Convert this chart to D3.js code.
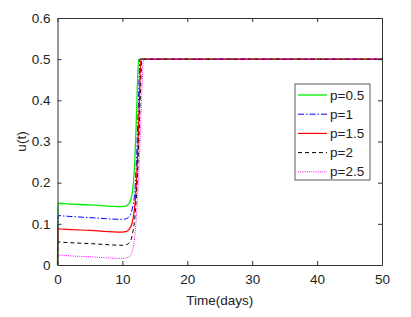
<!DOCTYPE html>
<html>
<head>
<meta charset="utf-8">
<script src="https://cdn.jsdelivr.net/npm/d3@7"></script>
<style>
  body { margin: 0; background: #fff; }
  text { font-family: "Liberation Sans", Arial, sans-serif; fill: #222; }
</style>
</head>
<body>
<div class="chart"></div>
<script>
var svgWidth = 411;
var svgHeight = 317;

var margin = { top: 18, right: 29, bottom: 52, left: 57.5 };
var width = svgWidth - margin.left - margin.right;
var height = svgHeight - margin.top - margin.bottom;

// data
var labels = ["p=0.5", "p=1", "p=1.5", "p=2", "p=2.5"];
var colors = ["#00ee00", "#0000ff", "#ff0000", "#000000", "#ff00ff"];
var dashes = [null, "6,2,1.5,2", null, "4,3", "1,1.2"];
var widths = [1.3, 1, 1.2, 1, 1];

var tGreen = [0, 0.05, 0.15, 1, 5, 10, 10.5, 11, 11.4, 11.7, 11.9, 12.1, 12.3, 12.5, 20, 50];
var uGreen = [0, 0.12, 0.15, 0.149, 0.146, 0.142, 0.143, 0.149, 0.165, 0.2, 0.25, 0.33, 0.43, 0.5, 0.5, 0.5];
var tBlue = [0, 0.05, 0.15, 1, 5, 10, 10.5, 11, 11.5, 11.9, 12.1, 12.3, 12.5, 12.7, 20, 50];
var uBlue = [0, 0.1, 0.12, 0.119, 0.115, 0.111, 0.112, 0.117, 0.135, 0.175, 0.23, 0.31, 0.41, 0.5, 0.5, 0.5];
var tRed = [0, 0.05, 0.15, 1, 5, 10, 10.5, 11, 11.5, 12, 12.2, 12.4, 12.6, 12.85, 20, 50];
var uRed = [0, 0.07, 0.088, 0.087, 0.084, 0.080, 0.081, 0.086, 0.102, 0.16, 0.21, 0.29, 0.39, 0.5, 0.5, 0.5];
var tBlack = [0, 0.05, 0.15, 1, 5, 10, 10.5, 11, 11.5, 12, 12.3, 12.5, 12.8, 13, 20, 50];
var uBlack = [0, 0.045, 0.056, 0.055, 0.052, 0.048, 0.049, 0.053, 0.072, 0.13, 0.21, 0.29, 0.43, 0.5, 0.5, 0.5];
var tMagenta = [0, 0.05, 0.15, 1, 5, 10, 10.5, 11, 11.5, 12, 12.4, 12.7, 13, 13.25, 20, 50];
var uMagenta = [0, 0.02, 0.024, 0.023, 0.02, 0.016, 0.017, 0.02, 0.033, 0.085, 0.18, 0.29, 0.42, 0.5, 0.5, 0.5];

var times = [tGreen, tBlue, tRed, tBlack, tMagenta];
var values = [uGreen, uBlue, uRed, uBlack, uMagenta];

var xTicks = [0, 10, 20, 30, 40, 50];
var yTicks = [0, 0.1, 0.2, 0.3, 0.4, 0.5, 0.6];

var svg = d3.select(".chart")
  .append("svg")
  .attr("width", svgWidth)
  .attr("height", svgHeight);

var chartGroup = svg.append("g")
  .attr("transform", `translate(${margin.left}, ${margin.top})`);

var x = d3.scaleLinear().domain([0, 50]).range([0, width]);
var y = d3.scaleLinear().domain([0, 0.6]).range([height, 0]);

// lines, later series drawn over earlier ones
var line = d3.line()
  .x(d => x(d[0]))
  .y(d => y(d[1]))
  .curve(d3.curveMonotoneX);

labels.forEach(function(lab, i) {
  var pts = times[i].map((t, j) => [t, values[i][j]]);
  chartGroup.append("path")
    .datum(pts)
    .attr("fill", "none")
    .attr("stroke", colors[i])
    .attr("stroke-width", widths[i])
    .attr("stroke-dasharray", dashes[i])
    .attr("d", line);
});

// axes, ticks pointing inward (all four sides)
var fmt = d => d === 0 ? "0" : d3.format("")(d);
chartGroup.append("g")
  .attr("transform", `translate(0, ${height})`)
  .call(d3.axisBottom(x).tickValues(xTicks).tickSizeInner(-4).tickSizeOuter(0).tickPadding(9).tickFormat(fmt));
chartGroup.append("g")
  .call(d3.axisLeft(y).tickValues(yTicks).tickSizeInner(-4).tickSizeOuter(0).tickPadding(7).tickFormat(fmt));
chartGroup.append("g")
  .call(d3.axisTop(x).tickValues(xTicks).tickSizeInner(-4).tickSizeOuter(0).tickFormat(""));
chartGroup.append("g")
  .attr("transform", `translate(${width}, 0)`)
  .call(d3.axisRight(y).tickValues(yTicks).tickSizeInner(-4).tickSizeOuter(0).tickFormat(""));

chartGroup.selectAll(".domain").attr("stroke", "#333");
chartGroup.selectAll(".tick line").attr("stroke", "#333");
chartGroup.selectAll(".tick text")
  .style("font-size", "13.5px")
  .style("font-family", "Liberation Sans, Arial, sans-serif")
  .attr("fill", "#222");

// axis labels
svg.append("text")
  .attr("x", margin.left + width / 2)
  .attr("y", 305)
  .attr("text-anchor", "middle")
  .style("font-size", "13.5px")
  .text("Time(days)");

svg.append("text")
  .attr("transform", `translate(26, ${margin.top + height / 2}) rotate(-90)`)
  .attr("text-anchor", "middle")
  .style("font-size", "13.5px")
  .text("u(t)");

// legend
var legend = svg.append("g").attr("transform", "translate(295, 84)");
legend.append("rect")
  .attr("width", 75)
  .attr("height", 96)
  .attr("fill", "#fff")
  .attr("stroke", "#333")
  .attr("stroke-width", 0.8);

labels.forEach(function(lab, i) {
  var ly = 11 + i * 19.2;
  legend.append("line")
    .attr("x1", 3).attr("x2", 32)
    .attr("y1", ly).attr("y2", ly)
    .attr("stroke", colors[i])
    .attr("stroke-width", widths[i])
    .attr("stroke-dasharray", dashes[i]);
  legend.append("text")
    .attr("x", 35)
    .attr("y", ly + 4.5)
    .style("font-size", "13.5px")
    .text(lab);
});
</script>
</body>
</html>
